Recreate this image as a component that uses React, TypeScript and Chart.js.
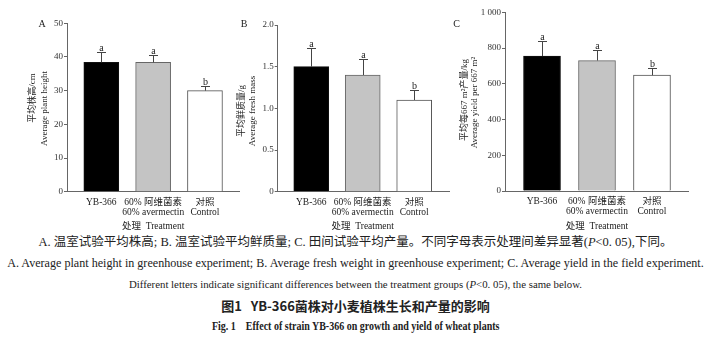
import React, { useEffect, useRef } from "react";
import { Chart, registerables } from "chart.js";
Chart.register(...registerables);

// ---- data ----
const categories: string[][] = [["YB-366"], ["60% 阿维菌素", "60% avermectin"], ["对照", "Control"]];
const heightValues = [38.4, 38.4, 30.0];
const heightErrors = [3.1, 2.2, 1.4];
const heightLetters = ["a", "a", "b"];
const massValues = [1.5, 1.4, 1.1];
const massErrors = [0.23, 0.19, 0.12];
const massLetters = ["a", "a", "b"];
const yieldValues = [755, 730, 648];
const yieldErrors = [83, 57, 42];
const yieldLetters = ["a", "a", "b"];
const heightTicks = ["0", "10", "20", "30", "40", "50"];
const massTicks = ["0", "0.5", "1.0", "1.5", "2.0"];
const yieldTicks = ["0", "200", "400", "600", "800", "1 000"];
const heightTitle = ["平均株高/cm", "Average plant height"];
const massTitle = ["平均鲜质量/g", "Average fresh mass"];
const yieldTitle = ["平均每667 m²产量/kg", "Average yield per 667 m²"];
const xTitle = "处理  Treatment";

const barColors = ["#000000", "#c4c4c4", "#ffffff"];
const barBorders = ["#111111", "#666666", "#555555"];
const FONT = '"Liberation Serif", "Noto Sans CJK SC", serif';
const CANVAS_H = 234;

type Panel = {
  left: number; width: number; axisL: number; axisR: number; top: number; bottom: number;
  xMin: number; xMax: number; barW: number; yMax: number; step: number;
  ticks: string[]; values: number[]; errors: number[]; letters: string[];
  tag: string; tagX: number; tagY: number; titles: string[]; titleX: number[]; titleY: number[];
};

const panels: Panel[] = [
  {
    left: 0, width: 240, axisL: 67, axisR: 240, top: 23.3, bottom: 191.7,
    xMin: -0.662, xMax: 2.676, barW: 35, yMax: 50, step: 10,
    ticks: heightTicks, values: heightValues, errors: heightErrors, letters: heightLetters,
    tag: "A", tagX: 42, tagY: 24.5, titles: heightTitle, titleX: [33, 45], titleY: [98, 108.5],
  },
  {
    left: 232, width: 222, axisL: 277.7, axisR: 449.3, top: 25, bottom: 191.7,
    xMin: -0.652, xMax: 2.682, barW: 35, yMax: 2, step: 0.5,
    ticks: massTicks, values: massValues, errors: massErrors, letters: massLetters,
    tag: "B", tagX: 244, tagY: 24.5, titles: massTitle, titleX: [241.7, 252.7], titleY: [111, 111],
  },
  {
    left: 448, width: 263, axisL: 505, axisR: 688, top: 12.3, bottom: 191,
    xMin: -0.673, xMax: 2.655, barW: 37, yMax: 1000, step: 200,
    ticks: yieldTicks, values: yieldValues, errors: yieldErrors, letters: yieldLetters,
    tag: "C", tagX: 456.7, tagY: 24.5, titles: yieldTitle, titleX: [465, 475], titleY: [100, 102.5],
  },
];

function makeChart(canvas: HTMLCanvasElement, p: Panel) {
  const deco = {
    id: "deco",
    afterDatasetsDraw(chart: any) {
      const ctx = chart.ctx;
      const meta = chart.getDatasetMeta(0);
      const ys = chart.scales.y;
      ctx.save();
      ctx.strokeStyle = "#444";
      ctx.lineWidth = 1;
      meta.data.forEach((el: any, i: number) => {
        const x = Math.round(el.x) + 0.5;
        const yTop = el.y;
        const yErr = ys.getPixelForValue(p.values[i] + p.errors[i]);
        ctx.beginPath();
        ctx.moveTo(x, yTop);
        ctx.lineTo(x, Math.round(yErr) + 0.5);
        ctx.moveTo(x - 4.5, Math.round(yErr) + 0.5);
        ctx.lineTo(x + 4.5, Math.round(yErr) + 0.5);
        ctx.stroke();
        ctx.fillStyle = "#222";
        ctx.font = `10px ${FONT}`;
        ctx.textAlign = "center";
        ctx.textBaseline = "alphabetic";
        ctx.fillText(p.letters[i], x, yErr - 1);
      });
      ctx.restore();
    },
    afterDraw(chart: any) {
      const ctx = chart.ctx;
      ctx.save();
      ctx.fillStyle = "#222";
      ctx.textAlign = "center";
      ctx.textBaseline = "middle";
      ctx.font = `10px ${FONT}`;
      ctx.fillText(p.tag, p.tagX - p.left, p.tagY);
      ctx.font = `9px ${FONT}`;
      p.titles.forEach((t, i) => {
        ctx.save();
        ctx.translate(p.titleX[i] - p.left, p.titleY[i]);
        ctx.rotate(-Math.PI / 2);
        ctx.fillText(t, 0, 0);
        ctx.restore();
      });
      const xs = chart.scales.x;
      ctx.font = `9.5px ${FONT}`;
      ctx.fillText(xTitle, xs.getPixelForValue(1), 226);
      ctx.restore();
    },
  };

  return new Chart(canvas, {
    type: "bar",
    data: {
      datasets: [
        {
          data: p.values.map((v, i) => ({ x: i, y: v })),
          backgroundColor: barColors,
          borderColor: barBorders,
          borderWidth: 1,
          barThickness: p.barW,
        } as any,
      ],
    },
    options: {
      animation: false,
      responsive: false,
      maintainAspectRatio: false,
      layout: { padding: { left: 0, right: p.left + p.width - p.axisR, top: p.top, bottom: 0 } },
      plugins: { legend: { display: false }, tooltip: { enabled: false } },
      scales: {
        x: {
          type: "linear",
          min: p.xMin,
          max: p.xMax,
          offset: false,
          grid: { display: false, drawTicks: false },
          border: { display: true, color: "#666", width: 1 },
          afterBuildTicks: (s: any) => {
            s.ticks = categories.map((_, i) => ({ value: i }));
          },
          afterFit: (s: any) => {
            s.height = CANVAS_H - p.bottom;
          },
          ticks: {
            autoSkip: false,
            maxRotation: 0,
            minRotation: 0,
            padding: 6,
            color: "#222",
            font: { family: FONT, size: 9.5, lineHeight: 1.02 },
            callback: (v: any) => categories[Math.round(v)] ?? "",
          },
        },
        y: {
          min: 0,
          max: p.yMax,
          grid: { drawOnChartArea: false, drawTicks: true, tickLength: 3, color: "#666" },
          border: { display: true, color: "#666", width: 1 },
          afterFit: (s: any) => {
            s.width = p.axisL - p.left;
          },
          ticks: {
            stepSize: p.step,
            padding: 1,
            color: "#333",
            font: { family: FONT, size: 9 },
            callback: (_v: any, i: number) => p.ticks[i],
          },
        },
      } as any,
    },
    plugins: [deco],
  } as any);
}

function PanelChart({ p }: { p: Panel }) {
  const ref = useRef<HTMLCanvasElement>(null);
  useEffect(() => {
    const c = makeChart(ref.current!, p);
    return () => c.destroy();
  }, [p]);
  return (
    <canvas
      ref={ref}
      width={p.width}
      height={CANVAS_H}
      style={{ position: "absolute", left: p.left, top: 0, width: p.width, height: CANVAS_H }}
    />
  );
}

function Caption({ top, size, squeeze = 1, extra = {}, children }: any) {
  return (
    <div
      style={{
        position: "absolute",
        left: 0,
        top,
        width: 711,
        textAlign: "center",
        fontFamily: FONT,
        fontSize: size,
        lineHeight: `${size + 2}px`,
        whiteSpace: "nowrap",
        color: "#222",
        ...extra,
      }}
    >
      <span style={{ display: "inline-block", transform: `scaleX(${squeeze})`, transformOrigin: "center" }}>{children}</span>
    </div>
  );
}

export default function App() {
  useEffect(() => {
    document.body.style.margin = "0";
  }, []);
  return (
    <div style={{ position: "absolute", left: 0, top: 0, width: 711, height: 343, background: "#fff", overflow: "hidden" }}>
      {panels.map((p, i) => (
        <PanelChart key={i} p={p} />
      ))}
      <Caption top={235} size={12.5}>
        A. 温室试验平均株高; B. 温室试验平均鲜质量; C. 田间试验平均产量。不同字母表示处理间差异显著(<i>P</i>&lt;0. 05),下同。
      </Caption>
      <Caption top={256} size={12.1}>
        A. Average plant height in greenhouse experiment; B. Average fresh weight in greenhouse experiment; C. Average yield in the field experiment.
      </Caption>
      <Caption top={278} size={10.8}>
        Different letters indicate significant differences between the treatment groups (<i>P</i>&lt;0. 05), the same below.
      </Caption>
      <Caption top={298} size={13} extra={{ fontFamily: '"Noto Sans CJK SC", sans-serif', fontWeight: 700 }}>
        图1&nbsp;&nbsp;&nbsp;YB-366菌株对小麦植株生长和产量的影响
      </Caption>
      <Caption top={318} size={13} squeeze={0.77} extra={{ fontWeight: 700 }}>
        Fig. 1&nbsp;&nbsp;&nbsp;&nbsp;Effect of strain YB-366 on growth and yield of wheat plants
      </Caption>
    </div>
  );
}
